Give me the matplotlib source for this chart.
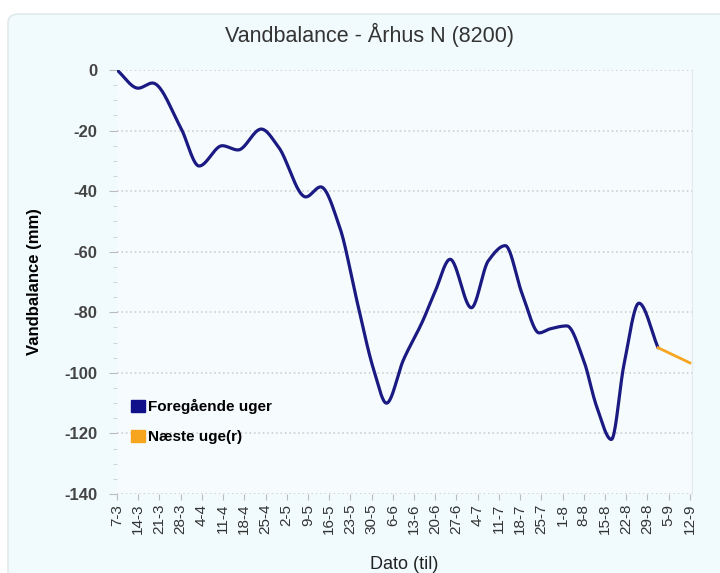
import numpy as np
import matplotlib.pyplot as plt
from matplotlib.patches import FancyBboxPatch, Patch

plt.rcParams['font.family'] = ['Liberation Sans', 'DejaVu Sans']

# Week labels on the x axis (dato til)
week_labels = ["7-3", "14-3", "21-3", "28-3", "4-4", "11-4", "18-4", "25-4", "2-5",
               "9-5", "16-5", "23-5", "30-5", "6-6", "13-6", "20-6", "27-6", "4-7",
               "11-7", "18-7", "25-7", "1-8", "8-8", "15-8", "22-8", "29-8", "5-9", "12-9"]

# Position in weeks after 7-3, water balance in mm
past_weeks = [0, 1.0, 1.67, 3.0, 3.87, 4.96, 5.7, 6.8, 7.6, 8.9, 9.6, 10.5, 11.3, 12.1,
              12.7, 13.5, 14.4, 15.0, 15.7, 16.7, 17.5, 18.3, 19.1, 19.9, 20.4, 21.2,
              22.0, 22.6, 23.3, 23.9, 24.6, 25.5]
past_vals = [0, -6, -4.3, -19, -31.7, -25, -26.4, -19.5, -25.3, -41.9, -38.6, -52, -76, -99,
             -110, -95.7, -83, -73, -62.5, -78.5, -63, -58, -74, -86.8, -85.5, -84.5,
             -96, -111, -122, -97, -77, -91.7]

next_weeks = [25.5, 27.0]
next_vals = [-91.7, -96.7]


def pchip(x, y, xs):
    # monotone cubic curve, keeps the read extrema in place
    x = np.asarray(x, float)
    y = np.asarray(y, float)
    h = np.diff(x)
    d = np.diff(y) / h
    m = np.zeros_like(y)
    for k in range(1, len(x) - 1):
        if d[k - 1] * d[k] > 0:
            w1 = 2 * h[k] + h[k - 1]
            w2 = h[k] + 2 * h[k - 1]
            m[k] = (w1 + w2) / (w1 / d[k - 1] + w2 / d[k])
    m[0] = d[0]
    m[-1] = d[-1]
    idx = np.clip(np.searchsorted(x, xs) - 1, 0, len(x) - 2)
    t = (xs - x[idx]) / h[idx]
    h00 = 2 * t**3 - 3 * t**2 + 1
    h10 = t**3 - 2 * t**2 + t
    h01 = -2 * t**3 + 3 * t**2
    h11 = t**3 - t**2
    return h00 * y[idx] + h10 * h[idx] * m[idx] + h01 * y[idx + 1] + h11 * h[idx] * m[idx + 1]


fig = plt.figure(figsize=(7.2, 5.73), dpi=100)
fig.patch.set_facecolor("white")

# rounded light panel behind everything
panel = FancyBboxPatch((8 / 720, -0.05), 1.2, (573 - 14) / 573 + 0.05,
                       boxstyle="round,pad=0,rounding_size=0.015",
                       transform=fig.transFigure, facecolor="#f1fbfd",
                       edgecolor="#dde6e8", linewidth=1.0, zorder=-10)
fig.patches.append(panel)

ax = fig.add_axes([117 / 720, 1 - 494 / 573, (692 - 117) / 720, (494 - 70) / 573])
ax.set_facecolor("#f6fcfe")

xs = np.linspace(past_weeks[0], past_weeks[-1], 800)
ax.plot(xs, pchip(past_weeks, past_vals, xs), color="#1a1a82", lw=2.3,
        solid_capstyle="round", zorder=3)
ax.plot(next_weeks, next_vals, color="#f5a520", lw=2.0, zorder=3)

ax.set_xlim(0, 27.1)
ax.set_ylim(-140, 0)
ax.set_xticks(range(len(week_labels)))
ax.set_xticklabels(week_labels, rotation=90, fontsize=11, color="#333333")
ax.set_yticks(np.arange(-140, 1, 20))
ax.set_yticklabels([str(v) for v in range(-140, 1, 20)], fontsize=12,
                   fontweight="bold", color="#444444")
ax.set_yticks(np.arange(-140, 1, 5), minor=True)
ax.tick_params(axis="y", which="major", length=6, color="#bbbbbb", pad=8)
ax.tick_params(axis="y", which="minor", length=3, color="#cccccc")
ax.tick_params(axis="x", length=4, color="#bbbbbb", pad=3)

ax.grid(axis="y", which="major", color="#cfcfcf", linestyle=":", linewidth=1.2)
for side in ["top", "left", "bottom"]:
    ax.spines[side].set_visible(False)
ax.spines["right"].set_color("#e3e8ea")

ax.set_ylabel("Vandbalance (mm)", fontsize=12, fontweight="bold", labelpad=16)
ax.set_xlabel("Dato (til)", fontsize=13, labelpad=16, color="#222222")
fig.text(370 / 720, 1 - 35 / 573, "Vandbalance - Århus N (8200)", ha="center",
         va="center", fontsize=15.5, color="#333333")

handles = [Patch(facecolor="#10108a", edgecolor="#10108a", label="Foregående uger"),
           Patch(facecolor="#f7a41f", edgecolor="#f7a41f", label="Næste uge(r)")]
ax.legend(handles=handles, loc="lower left", bbox_to_anchor=(0.0, 0.085), frameon=False,
          prop={"weight": "bold", "size": 11}, handlelength=0.9, handleheight=0.9,
          handletextpad=0.2, labelspacing=1.0)

fig.savefig("out.png", dpi=100)
